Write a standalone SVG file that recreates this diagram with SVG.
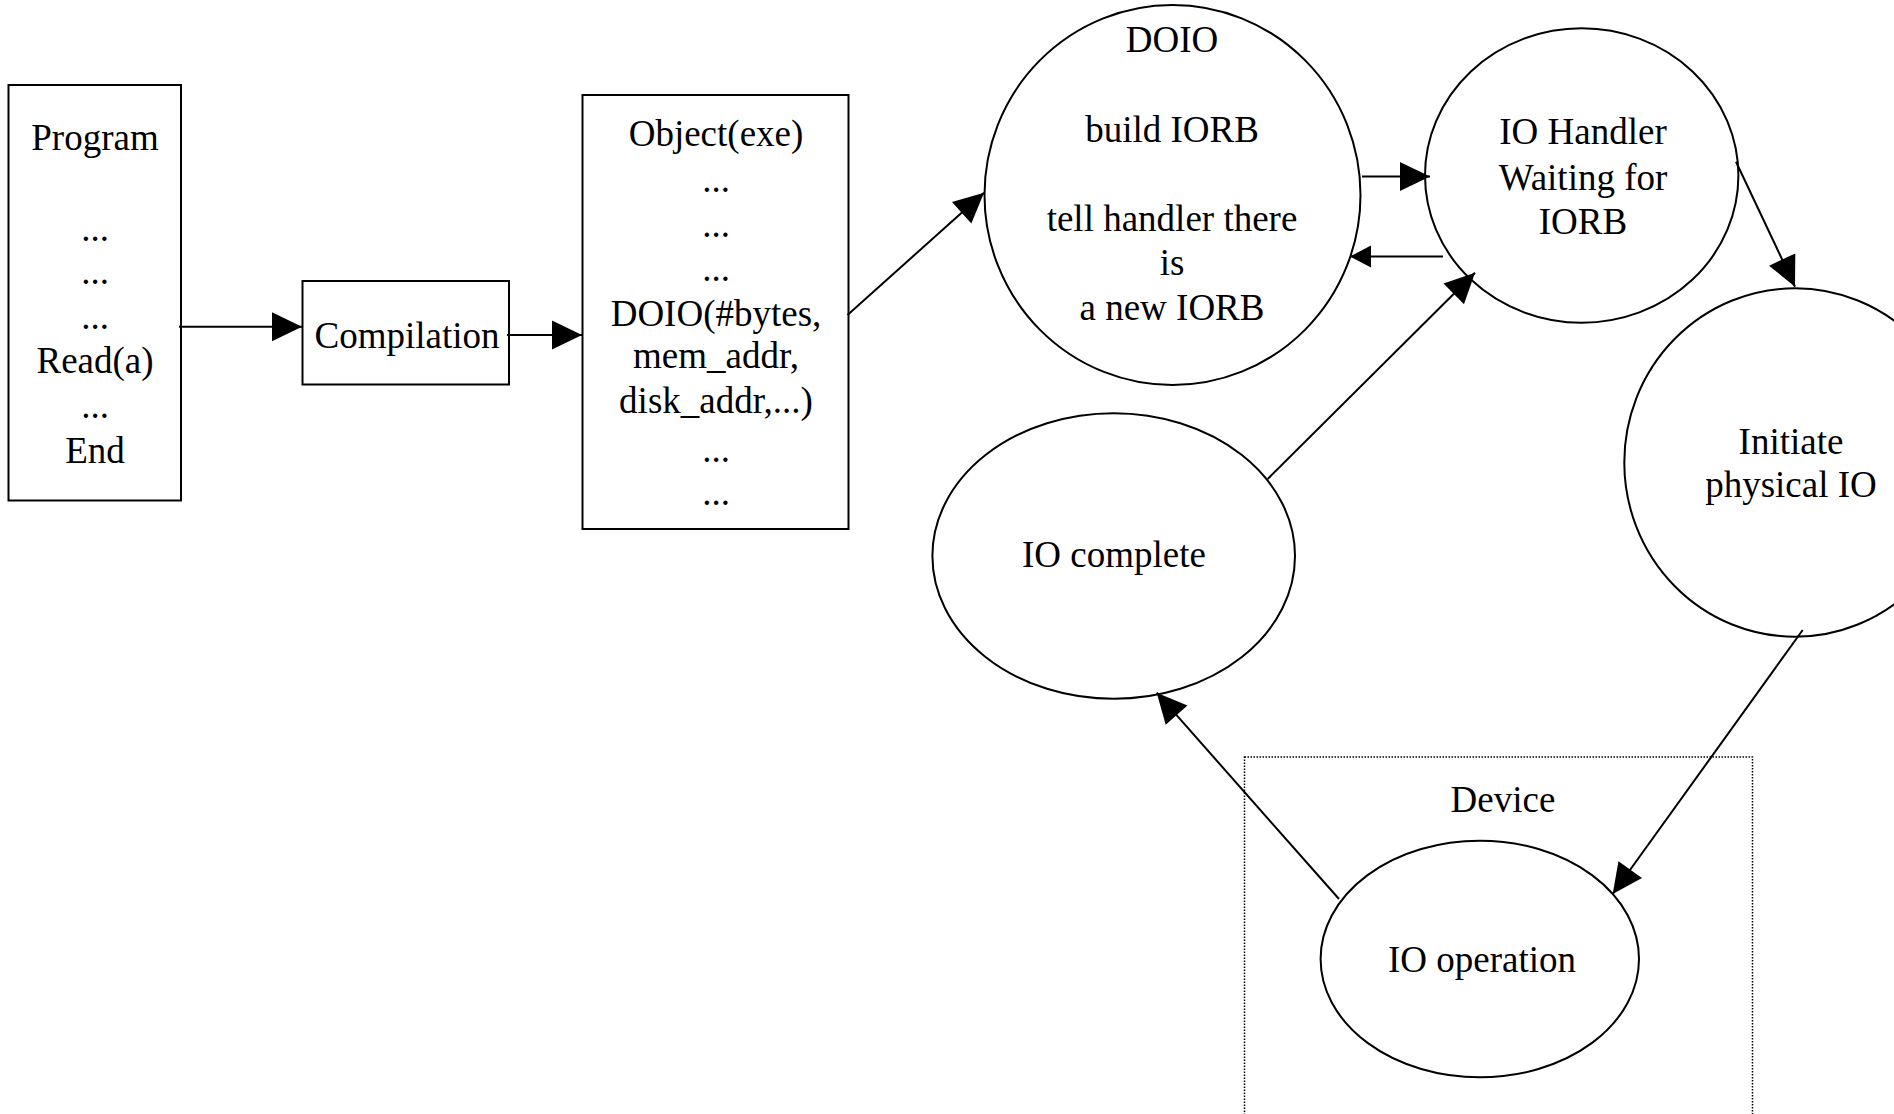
<svg xmlns="http://www.w3.org/2000/svg" width="1894" height="1114" viewBox="0 0 1894 1114">
  <style>
    .box { fill: #ffffff; stroke: #000000; stroke-width: 2; }
    .node { fill: #ffffff; stroke: #000000; stroke-width: 2; }
    .group { fill: none; stroke: #000000; stroke-width: 1.5; stroke-dasharray: 1.5 1.5; }
    .edge { fill: none; stroke: #000000; stroke-width: 2; }
    .big { marker-end: url(#head); }
    .small { marker-end: url(#headSmall); }
    text { font-family: "Liberation Serif", "Times New Roman", serif; font-size: 37px; fill: #000000; text-anchor: middle; }
  </style>
  <defs>
    <marker id="head" markerUnits="userSpaceOnUse" markerWidth="30" markerHeight="29" refX="30" refY="14.5" orient="auto" overflow="visible">
      <path d="M0,0 L30,14.5 L0,29 Z" fill="#000000"/>
    </marker>
    <marker id="headSmall" markerUnits="userSpaceOnUse" markerWidth="21" markerHeight="22" refX="21" refY="11" orient="auto" overflow="visible">
      <path d="M0,0 L21,11 L0,22 Z" fill="#000000"/>
    </marker>
  </defs>
  <rect width="1894" height="1114" fill="#ffffff"/>

  <!-- source program listing -->
  <g id="program">
    <rect class="box" x="8.5" y="85" width="172.5" height="415.5"/>
    <text x="95" y="150">Program</text>
    <text x="95" y="240.5">...</text>
    <text x="95" y="284">...</text>
    <text x="95" y="329">...</text>
    <text x="95" y="372.5">Read(a)</text>
    <text x="95" y="418">...</text>
    <text x="95" y="463">End</text>
  </g>

  <!-- compiler step -->
  <g id="compilation">
    <rect class="box" x="302.5" y="281" width="206.5" height="103.5"/>
    <text x="407" y="347.5">Compilation</text>
  </g>

  <!-- compiled object code -->
  <g id="object">
    <rect class="box" x="582.5" y="95" width="266" height="434"/>
    <text x="716" y="145.5">Object(exe)</text>
    <text x="716" y="192">...</text>
    <text x="716" y="236.5">...</text>
    <text x="716" y="280.5">...</text>
    <text x="716" y="325.5">DOIO(#bytes,</text>
    <text x="716" y="367.5">mem_addr,</text>
    <text x="716" y="412.5">disk_addr,...)</text>
    <text x="716" y="461.5">...</text>
    <text x="716" y="505">...</text>
  </g>

  <!-- DOIO system call -->
  <g id="doio">
    <ellipse class="node" cx="1172.5" cy="195" rx="188" ry="190"/>
    <text x="1172" y="51.5">DOIO</text>
    <text x="1172" y="141.5">build IORB</text>
    <text x="1172" y="231">tell handler there</text>
    <text x="1172" y="275">is</text>
    <text x="1172" y="320">a new IORB</text>
  </g>

  <!-- IO handler -->
  <g id="io-handler">
    <ellipse class="node" cx="1581.7" cy="175.5" rx="156.7" ry="147.2"/>
    <text x="1583" y="144">IO Handler</text>
    <text x="1583" y="189.5">Waiting for</text>
    <text x="1583" y="233.5">IORB</text>
  </g>

  <!-- start of the transfer -->
  <g id="initiate">
    <ellipse class="node" cx="1795" cy="462.5" rx="170.7" ry="174.2"/>
    <text x="1791" y="454">Initiate</text>
    <text x="1791" y="496.5">physical IO</text>
  </g>

  <!-- completion -->
  <g id="io-complete">
    <ellipse class="node" cx="1113.7" cy="556" rx="181.3" ry="142.8"/>
    <text x="1114" y="566.5">IO complete</text>
  </g>

  <!-- hardware side -->
  <g id="device">
    <rect class="group" x="1244.5" y="757" width="508" height="400"/>
    <text x="1503" y="811.5">Device</text>
    <g id="io-operation">
      <ellipse class="node" cx="1479.8" cy="959" rx="159.2" ry="118.3"/>
      <text x="1482" y="971.5">IO operation</text>
    </g>
  </g>

  <!-- connectors -->
  <g id="connectors">
    <line class="edge big" x1="179" y1="326.7" x2="302" y2="326.7"/>
    <line class="edge big" x1="507" y1="335" x2="582" y2="335"/>
    <line class="edge big" x1="847.5" y1="315" x2="984" y2="192.7"/>
    <line class="edge big" x1="1362" y1="176.5" x2="1430" y2="176.5"/>
    <line class="edge small" x1="1443" y1="256.5" x2="1350" y2="256.5"/>
    <line class="edge big" x1="1267.7" y1="479" x2="1475" y2="272.7"/>
    <line class="edge big" x1="1736" y1="161.7" x2="1795" y2="286.7"/>
    <line class="edge big" x1="1802.7" y1="630" x2="1612.7" y2="894"/>
    <line class="edge big" x1="1339" y1="899" x2="1156.7" y2="692.7"/>
  </g>
</svg>
